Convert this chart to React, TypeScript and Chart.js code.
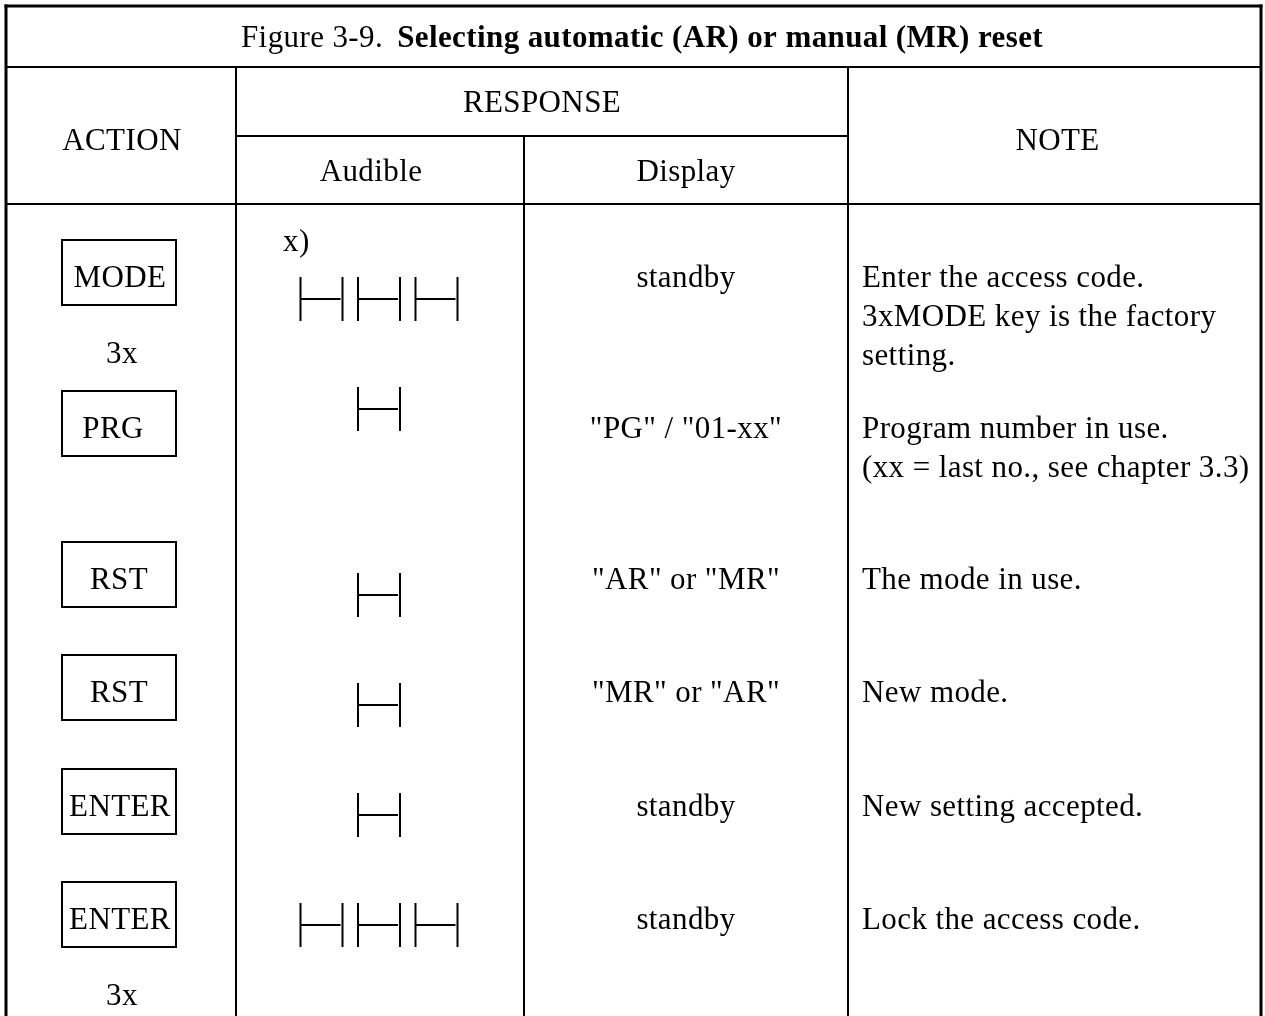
import React, { useEffect, useRef } from "react";
import { Chart, registerables } from "chart.js";

Chart.register(...registerables);

// ---------- content ----------
const TITLE_PREFIX = "Figure 3-9.";
const TITLE_BOLD = "Selecting automatic (AR) or manual (MR) reset";
const HEADER_ACTION = "ACTION";
const HEADER_RESPONSE = "RESPONSE";
const HEADER_AUDIBLE = "Audible";
const HEADER_DISPLAY = "Display";
const HEADER_NOTE = "NOTE";
const FOOTNOTE_MARK = "x)";

const actionKeys = ["MODE", "PRG", "RST", "RST", "ENTER", "ENTER"];
const actionRepeats = ["3x", "", "", "", "", "3x"];
const beepCounts = [3, 1, 1, 1, 1, 3];
const displayTexts = [
  "standby",
  '"PG" / "01-xx"',
  '"AR" or "MR"',
  '"MR" or "AR"',
  "standby",
  "standby",
];
const noteTexts = [
  ["Enter the access code.", "3xMODE key is the factory", "setting."],
  ["Program number in use.", "(xx = last no., see chapter 3.3)"],
  ["The mode in use."],
  ["New mode."],
  ["New setting accepted."],
  ["Lock the access code."],
];

// ---------- layout (pixels in the 1265 x 1016 frame) ----------
const W = 1265;
const H = 1016;
const COL_LEFT = 6;
const COL_A = 236;
const COL_B = 524;
const COL_C = 848;
const COL_RIGHT = 1261;
const LINE_TOP = 6;
const LINE_TITLE = 67;
const LINE_SUB = 136;
const LINE_HEAD = 204;
const rowTextY = [277, 428, 579, 692, 806, 919];
const keyBoxTop = [240, 391, 542, 655, 769, 882];
const keyTextX = [120, 113, 119, 119, 120, 120];
const beepMidY = [299, 409, 595, 705, 815, 925];
const REPEAT_DY = 78;
const KEY_BOX_L = 62;
const KEY_BOX_R = 176;
const KEY_BOX_H = 65;
const BEEP_CENTER_X = 379;
const BEEP_W = 42;
const BEEP_STEP = 57.5;
const BEEP_H = 44;
const NOTE_X = 862;
const NOTE_LINE_H = 39;
const DISPLAY_X = 686;
const TEXT_DY = 2;

const FONT_FAMILY = '"Liberation Serif", "Times New Roman", serif';
const FONT = `31px ${FONT_FAMILY}`;
const FONT_BOLD = `bold 31px ${FONT_FAMILY}`;
const LETTER_SPACING = "0.4px";

const tablePlugin = {
  id: "tableFigure",
  beforeDraw(chart: any) {
    const { ctx } = chart;
    ctx.save();
    ctx.fillStyle = "#ffffff";
    ctx.fillRect(0, 0, chart.width, chart.height);
    ctx.restore();
  },
  afterDraw(chart: any) {
    const { ctx } = chart;
    const xs = chart.scales.x;
    const ys = chart.scales.y;
    const X = (v: number) => xs.getPixelForValue(v);
    const Y = (v: number) => ys.getPixelForValue(v);

    ctx.save();
    ctx.strokeStyle = "#000000";
    ctx.fillStyle = "#000000";
    ctx.lineCap = "butt";
    try {
      (ctx as any).letterSpacing = LETTER_SPACING;
    } catch (e) {
      /* ignore */
    }

    const line = (x1: number, y1: number, x2: number, y2: number, w: number) => {
      ctx.lineWidth = w;
      ctx.beginPath();
      ctx.moveTo(X(x1), Y(y1));
      ctx.lineTo(X(x2), Y(y2));
      ctx.stroke();
    };

    // outer frame
    line(COL_LEFT, LINE_TOP - 1.5, COL_LEFT, H, 3);
    line(COL_RIGHT, LINE_TOP - 1.5, COL_RIGHT, H, 3);
    line(COL_LEFT - 1.5, LINE_TOP, COL_RIGHT + 1.5, LINE_TOP, 3);
    // horizontal rules
    line(COL_LEFT, LINE_TITLE, COL_RIGHT, LINE_TITLE, 2);
    line(COL_A, LINE_SUB, COL_C, LINE_SUB, 2);
    line(COL_LEFT, LINE_HEAD, COL_RIGHT, LINE_HEAD, 2);
    // vertical rules
    line(COL_A, LINE_TITLE, COL_A, H, 2);
    line(COL_C, LINE_TITLE, COL_C, H, 2);
    line(COL_B, LINE_SUB, COL_B, H, 2);

    const text = (s: string, x: number, y: number, align: CanvasTextAlign, font = FONT) => {
      ctx.font = font;
      ctx.textAlign = align;
      ctx.textBaseline = "middle";
      ctx.fillText(s, X(x), Y(y + TEXT_DY));
    };

    // title
    ctx.font = FONT;
    const wPre = ctx.measureText(TITLE_PREFIX).width;
    ctx.font = FONT_BOLD;
    const wBold = ctx.measureText(TITLE_BOLD).width;
    const gap = 14;
    const titleCenter = 642;
    const startX = titleCenter - (wPre + gap + wBold) / 2;
    text(TITLE_PREFIX, startX, 37, "left");
    text(TITLE_BOLD, startX + wPre + gap, 37, "left", FONT_BOLD);

    // headers
    text(HEADER_ACTION, (COL_LEFT + COL_A) / 2 + 1, 140, "center");
    text(HEADER_RESPONSE, (COL_A + COL_C) / 2, 102, "center");
    text(HEADER_AUDIBLE, (COL_A + COL_B) / 2 - 9, 171, "center");
    text(HEADER_DISPLAY, DISPLAY_X, 171, "center");
    text(HEADER_NOTE, (COL_C + COL_RIGHT) / 2 + 3, 140, "center");

    // footnote mark
    text(FOOTNOTE_MARK, 283, 241, "left");

    actionKeys.forEach((key, i) => {
      // key box
      ctx.lineWidth = 2;
      ctx.strokeRect(
        X(KEY_BOX_L),
        Y(keyBoxTop[i]),
        X(KEY_BOX_R) - X(KEY_BOX_L),
        Y(keyBoxTop[i] + KEY_BOX_H) - Y(keyBoxTop[i])
      );
      text(key, keyTextX[i], rowTextY[i], "center");
      if (actionRepeats[i]) text(actionRepeats[i], 122, rowTextY[i] + REPEAT_DY - TEXT_DY, "center");

      // beeps
      const n = beepCounts[i];
      const total = BEEP_W + (n - 1) * BEEP_STEP;
      const start = BEEP_CENTER_X - total / 2;
      for (let k = 0; k < n; k++) {
        const bx = start + k * BEEP_STEP;
        const top = beepMidY[i] - BEEP_H / 2;
        const bot = beepMidY[i] + BEEP_H / 2;
        line(bx, top, bx, bot, 2);
        line(bx + BEEP_W, top, bx + BEEP_W, bot, 2);
        line(bx, beepMidY[i], bx + BEEP_W - 2, beepMidY[i], 2);
      }

      // display
      text(displayTexts[i], DISPLAY_X, rowTextY[i], "center");

      // notes
      noteTexts[i].forEach((s, j) => {
        text(s, NOTE_X, rowTextY[i] + j * NOTE_LINE_H, "left");
      });
    });

    ctx.restore();
  },
};

export default function App() {
  const canvasRef = useRef<HTMLCanvasElement | null>(null);

  useEffect(() => {
    const canvas = canvasRef.current;
    if (!canvas) return;
    const chart = new Chart(canvas, {
      type: "scatter",
      data: { datasets: [{ data: [], pointRadius: 0 }] },
      options: {
        responsive: false,
        animation: false,
        events: [],
        devicePixelRatio: 1,
        layout: { padding: 0 },
        plugins: { legend: { display: false }, tooltip: { enabled: false }, title: { display: false } },
        scales: {
          x: { type: "linear", min: 0, max: W, display: false },
          y: { type: "linear", min: 0, max: H, reverse: true, display: false },
        },
      },
      plugins: [tablePlugin],
    } as any);
    return () => chart.destroy();
  }, []);

  return (
    <div style={{ position: "absolute", left: 0, top: 0, width: W, height: H, background: "#fff" }}>
      <canvas ref={canvasRef} width={W} height={H} style={{ display: "block", width: W, height: H }} />
    </div>
  );
}
